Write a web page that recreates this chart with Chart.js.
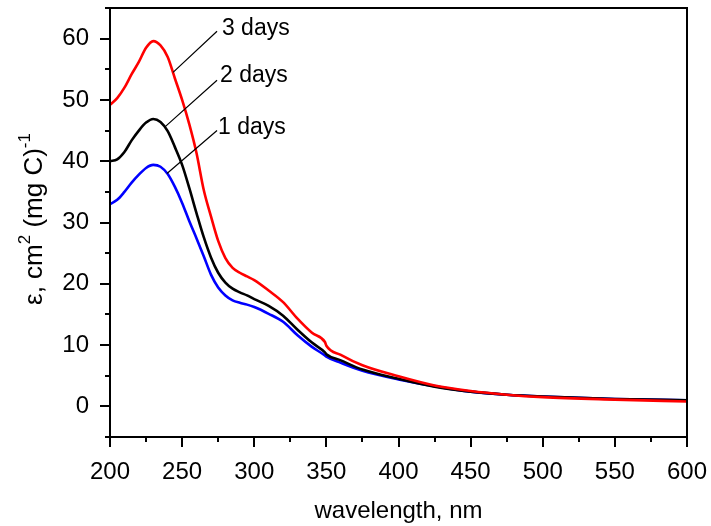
<!DOCTYPE html>
<html>
<head>
<meta charset="utf-8">
<script src="https://cdn.jsdelivr.net/npm/chart.js@4"></script>
<style>
  html, body { margin: 0; padding: 0; background: #fff; }
  #wrap { width: 711px; height: 526px; }
</style>
</head>
<body>
<div id="wrap"><canvas id="specChart"></canvas></div>
<script>
// wavelength (nm) and specific absorbance values
const wavelengths = [200, 205, 210, 215, 220, 225, 230, 235, 240, 245, 250, 255, 260, 265, 270, 275, 280, 285, 290, 295, 300, 310, 320, 330, 340, 349, 350, 360, 375, 400, 425, 450, 475, 500, 550, 600];
const day3 = [49.2, 50.3, 52.0, 54.2, 56.2, 58.5, 59.6, 58.9, 57.0, 53.5, 50.0, 46.0, 41.3, 35.3, 31.0, 27.0, 24.2, 22.6, 21.8, 21.2, 20.6, 18.9, 17.0, 14.3, 12.0, 10.5, 9.9, 8.4, 6.7, 4.9, 3.4, 2.5, 1.9, 1.5, 1.1, 0.8];
const day2 = [40.0, 40.3, 41.5, 43.4, 45.0, 46.3, 46.9, 46.4, 44.9, 42.3, 39.4, 35.6, 31.5, 27.6, 24.3, 21.8, 20.2, 19.2, 18.6, 18.1, 17.5, 16.4, 14.8, 12.5, 10.4, 8.8, 8.5, 7.5, 6.0, 4.5, 3.2, 2.4, 1.9, 1.6, 1.2, 1.0];
const day1 = [33.0, 33.7, 35.0, 36.5, 37.8, 38.9, 39.4, 39.1, 37.9, 35.8, 33.2, 30.2, 27.4, 24.5, 21.5, 19.4, 18.1, 17.3, 16.9, 16.6, 16.2, 15.1, 13.8, 11.6, 9.7, 8.3, 8.1, 7.1, 5.8, 4.4, 3.3, 2.4, 1.9, 1.6, 1.2, 1.0];

// curve labels: text anchor and leader line, in data units
const labelText = ['3 days', '2 days', '1 days'];
const labelPos = [[277.6, 61.6], [276.3, 53.9], [274.9, 45.5]];
const leaderFrom = [[274.2, 61.2], [274.2, 53.2], [274.2, 45.0]];
const leaderTo = [[243.7, 54.5], [238.1, 45.6], [239.5, 38.0]];

const FONT = 'Arial, "Liberation Sans", sans-serif';
const pts = (ys) => wavelengths.map((x, i) => ({ x, y: ys[i] }));

const frameAndTicks = {
  id: 'frameAndTicks',
  afterDraw(chart) {
    const { ctx, chartArea: a, scales } = chart;
    ctx.save();
    ctx.strokeStyle = '#000';
    ctx.lineWidth = 2;
    ctx.strokeRect(a.left, a.top, a.right - a.left, a.bottom - a.top);
    // outward major/minor ticks
    ctx.beginPath();
    scales.x.ticks.forEach((t) => {
      const px = Math.round(scales.x.getPixelForValue(t.value));
      const len = t.value % 50 === 0 ? 10 : 5;
      ctx.moveTo(px, a.bottom);
      ctx.lineTo(px, a.bottom + len);
    });
    scales.y.ticks.forEach((t) => {
      const py = Math.round(scales.y.getPixelForValue(t.value));
      const len = t.value % 10 === 0 ? 10 : 5;
      ctx.moveTo(a.left, py);
      ctx.lineTo(a.left - len, py);
    });
    ctx.stroke();

    // curve labels with leader lines
    ctx.lineWidth = 1.2;
    ctx.beginPath();
    leaderFrom.forEach((f, i) => {
      ctx.moveTo(scales.x.getPixelForValue(f[0]), scales.y.getPixelForValue(f[1]));
      ctx.lineTo(scales.x.getPixelForValue(leaderTo[i][0]), scales.y.getPixelForValue(leaderTo[i][1]));
    });
    ctx.stroke();
    ctx.fillStyle = '#000';
    ctx.font = '23px ' + FONT;
    ctx.textBaseline = 'middle';
    ctx.textAlign = 'left';
    labelText.forEach((s, i) => {
      ctx.fillText(s, scales.x.getPixelForValue(labelPos[i][0]), scales.y.getPixelForValue(labelPos[i][1]));
    });

    // y axis title with superscripts
    const parts = [
      ['ε, cm', 26, 0], ['2', 17, -12], [' (mg C)', 26, 0], ['-1', 17, -12],
    ];
    let total = 0;
    parts.forEach((p) => { ctx.font = p[1] + 'px ' + FONT; total += ctx.measureText(p[0]).width; });
    ctx.translate(33, 219);
    ctx.rotate(-Math.PI / 2);
    ctx.textBaseline = 'alphabetic';
    let x = -total / 2;
    parts.forEach((p) => {
      ctx.font = p[1] + 'px ' + FONT;
      ctx.fillText(p[0], x, 9 + p[2]);
      x += ctx.measureText(p[0]).width;
    });
    ctx.restore();
  },
};

new Chart(document.getElementById('specChart'), {
  type: 'line',
  data: {
    datasets: [
      { label: '3 days', data: pts(day3), borderColor: '#ff0000' },
      { label: '2 days', data: pts(day2), borderColor: '#000000' },
      { label: '1 days', data: pts(day1), borderColor: '#0000ff' },
    ],
  },
  options: {
    responsive: true,
    maintainAspectRatio: false,
    animation: false,
    layout: { padding: { top: 8, right: 24, left: 0, bottom: 0 } },
    elements: {
      point: { radius: 0 },
      line: { borderWidth: 2.6, cubicInterpolationMode: 'monotone' },
    },
    plugins: { legend: { display: false }, tooltip: { enabled: false } },
    scales: {
      x: {
        type: 'linear',
        min: 200,
        max: 600,
        afterFit: (s) => { s.height = 89; s.paddingLeft = 0; s.paddingRight = 0; },
        grid: { display: false },
        border: { display: false },
        title: {
          display: true,
          text: 'wavelength, nm',
          color: '#000',
          font: { family: FONT, size: 24 },
          padding: { top: 10, bottom: 0 },
        },
        ticks: {
          stepSize: 25,
          autoSkip: false,
          maxRotation: 0,
          padding: 13,
          color: '#000',
          font: { family: FONT, size: 24 },
          callback: (v) => (v % 50 === 0 ? v : ''),
        },
      },
      y: {
        min: -5,
        max: 65,
        afterFit: (s) => { s.width = 110; s.paddingTop = 0; s.paddingBottom = 0; },
        grid: { display: false },
        border: { display: false },
        ticks: {
          stepSize: 5,
          autoSkip: false,
          padding: 13,
          color: '#000',
          font: { family: FONT, size: 24 },
          callback: (v) => (v % 10 === 0 && v >= 0 && v <= 60 ? v : ''),
        },
      },
    },
  },
  plugins: [frameAndTicks],
});
</script>
</body>
</html>
